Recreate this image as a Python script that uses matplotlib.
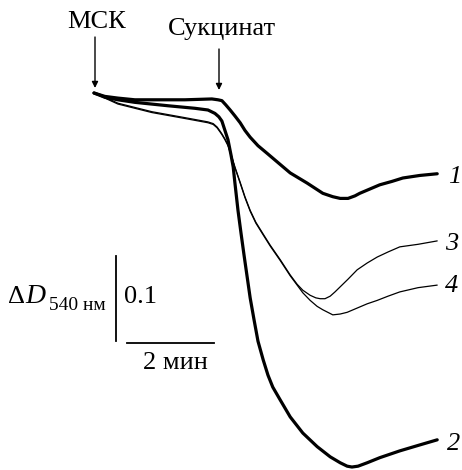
import matplotlib
matplotlib.use("Agg")
import matplotlib.pyplot as plt

# time, min (from MSK addition) and optical density change ΔD540
t1 = [0, 0.25, 0.55, 0.94, 1.33, 2.09, 2.71, 2.85, 2.94, 3.03, 3.13, 3.24, 3.36, 3.47, 3.59, 3.77,
      3.98, 4.21, 4.51, 4.90, 5.26, 5.49, 5.66, 5.84, 6.00, 6.11, 6.34, 6.57, 6.85, 7.10, 7.49, 7.89]
d1 = [0, -0.004, -0.006, -0.008, -0.008, -0.008, -0.007, -0.008, -0.009, -0.014, -0.020, -0.027,
      -0.035, -0.044, -0.052, -0.062, -0.071, -0.081, -0.094, -0.106, -0.118, -0.122, -0.124, -0.124,
      -0.121, -0.118, -0.113, -0.108, -0.104, -0.100, -0.097, -0.095]

t2 = [0, 0.25, 0.55, 0.94, 1.70, 2.32, 2.62, 2.78, 2.87, 2.94, 3.01, 3.08, 3.15, 3.20, 3.24, 3.31,
      3.38, 3.45, 3.52, 3.59, 3.68, 3.77, 3.89, 4.00, 4.11, 4.28, 4.51, 4.80, 5.13, 5.43, 5.66, 5.82,
      5.93, 6.07, 6.28, 6.57, 7.03, 7.49, 7.89]
d2 = [0, -0.005, -0.008, -0.011, -0.015, -0.018, -0.020, -0.024, -0.028, -0.033, -0.044, -0.055,
      -0.073, -0.087, -0.106, -0.138, -0.165, -0.191, -0.216, -0.241, -0.267, -0.292, -0.314, -0.332,
      -0.346, -0.361, -0.381, -0.400, -0.416, -0.428, -0.435, -0.439, -0.440, -0.439, -0.435, -0.429,
      -0.421, -0.414, -0.408]

t3 = [0, 0.25, 0.55, 0.94, 1.33, 2.09, 2.62, 2.74, 2.83, 2.90, 2.94, 3.01, 3.08, 3.15, 3.24, 3.36,
      3.47, 3.59, 3.72, 3.89, 4.05, 4.28, 4.51, 4.67, 4.80, 4.97, 5.10, 5.20, 5.31, 5.43, 5.54, 5.66,
      5.84, 6.05, 6.28, 6.51, 6.76, 7.03, 7.45, 7.89]
d3 = [0, -0.005, -0.012, -0.017, -0.022, -0.029, -0.034, -0.036, -0.040, -0.045, -0.048, -0.054,
      -0.061, -0.072, -0.087, -0.105, -0.122, -0.138, -0.152, -0.166, -0.179, -0.196, -0.214, -0.225,
      -0.232, -0.238, -0.241, -0.242, -0.242, -0.239, -0.234, -0.228, -0.219, -0.208, -0.200, -0.193,
      -0.187, -0.181, -0.178, -0.174]

t4 = [0, 0.25, 0.55, 0.94, 1.33, 2.09, 2.62, 2.74, 2.83, 2.90, 2.94, 3.01, 3.08, 3.15, 3.24, 3.36,
      3.47, 3.59, 3.72, 3.89, 4.05, 4.28, 4.51, 4.67, 4.80, 4.97, 5.13, 5.26, 5.49, 5.66, 5.82, 6.05,
      6.28, 6.51, 6.76, 7.03, 7.45, 7.89]
d4 = [0, -0.006, -0.013, -0.018, -0.023, -0.030, -0.035, -0.037, -0.041, -0.046, -0.049, -0.055,
      -0.062, -0.073, -0.088, -0.106, -0.123, -0.139, -0.153, -0.167, -0.180, -0.197, -0.215, -0.226,
      -0.235, -0.244, -0.251, -0.255, -0.261, -0.260, -0.258, -0.253, -0.248, -0.244, -0.239, -0.234,
      -0.229, -0.226]

curve_labels = ["1", "2", "3", "4"]
scale_dt = 2.0    # min
scale_dD = 0.1

W, H = 462, 470
fig = plt.figure(figsize=(W / 100, H / 100), dpi=100)
ax = fig.add_axes([0, 0, 1, 1])
ax.set_xlim(-2.161, 8.460)
ax.set_ylim(-0.4435, 0.1094)
ax.axis("off")

serif = "Liberation Serif"
thick, thin = 2.3, 0.9
for t, d, lw in [(t1, d1, thick), (t2, d2, thick), (t3, d3, thin), (t4, d4, thin)]:
    ax.plot(t, d, color="black", lw=lw, solid_joinstyle="round", solid_capstyle="round")

def fp(x, y):
    return (x / W, 1 - y / H)

# curve labels
for lab, (x, y) in zip(curve_labels, [(448, 183), (447, 450), (445, 250), (445, 292)]):
    fig.text(*fp(x, y), lab, fontfamily=serif, fontstyle="italic", fontsize=19,
             ha="left", va="baseline")

# addition labels with arrows
fig.text(*fp(97, 28), "МСК", fontfamily=serif, fontsize=19, ha="center", va="baseline")
fig.text(*fp(222, 35), "Сукцинат", fontfamily=serif, fontsize=19, ha="center", va="baseline")
for (x, y0, y1) in [(95, 37, 88), (219, 49, 90)]:
    ax.annotate("", xy=fp(x, y1), xytext=fp(x, y0), xycoords="figure fraction",
                textcoords="figure fraction",
                arrowprops=dict(arrowstyle="-|>", color="black", lw=1.0,
                                mutation_scale=9, shrinkA=0, shrinkB=0))

# scale bars
x_v = 0.506
ax.plot([x_v, x_v], [-0.192, -0.192 - scale_dD], color="black", lw=1.3)
ax.plot([0.759, 0.759 + scale_dt], [-0.294, -0.294], color="black", lw=1.3)
fig.text(*fp(124, 303), "0.1", fontfamily=serif, fontsize=19, ha="left", va="baseline")
fig.text(*fp(143, 369), "2 мин", fontfamily=serif, fontsize=19, ha="left", va="baseline")
fig.text(*fp(8, 303), "Δ", fontfamily=serif, fontsize=19, ha="left", va="baseline")
fig.text(*fp(25, 303), "D", fontfamily=serif, fontstyle="italic", fontsize=20, ha="left", va="baseline")
fig.text(*fp(49, 310), "540 нм", fontfamily=serif, fontsize=14, ha="left", va="baseline")

fig.savefig("out.png", dpi=100, facecolor="white")
